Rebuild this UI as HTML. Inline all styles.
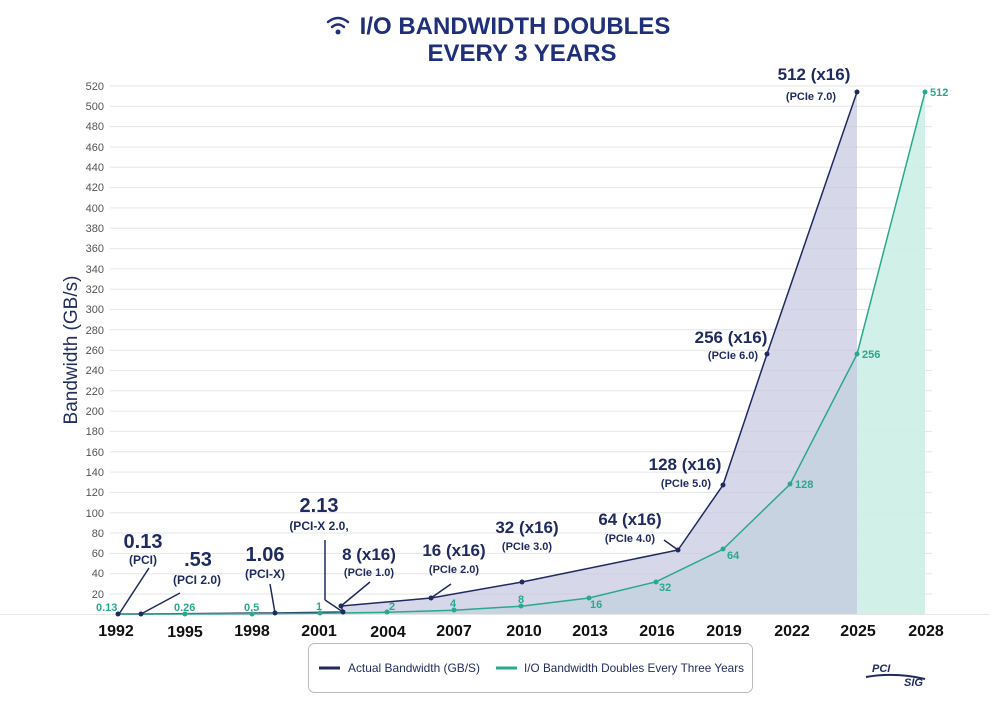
<!DOCTYPE html>
<html><head><meta charset="utf-8"><style>
body{margin:0;background:#fff;width:1000px;height:701px;overflow:hidden;font-family:"Liberation Sans",sans-serif}
</style></head><body>
<svg width="1000" height="701" viewBox="0 0 1000 701" xmlns="http://www.w3.org/2000/svg" font-family="Liberation Sans, sans-serif">
<text x="515" y="34" text-anchor="middle" font-size="24" font-weight="bold" fill="#1f2f7a">I/O BANDWIDTH DOUBLES</text>
<text x="522" y="61" text-anchor="middle" font-size="24" font-weight="bold" fill="#1f2f7a">EVERY 3 YEARS</text>
<g fill="none" stroke="#1f2f7a" stroke-width="2.5" stroke-linecap="round"><path d="M328 22 q10 -8 20 0"/><path d="M332 27 q6 -5 12 0"/></g><circle cx="338" cy="32" r="2.5" fill="#1f2f7a"/>
<g stroke="#e6e6e6" stroke-width="1">
<line x1="110" y1="86.0" x2="932" y2="86.0"/><line x1="110" y1="106.3" x2="932" y2="106.3"/><line x1="110" y1="126.6" x2="932" y2="126.6"/><line x1="110" y1="147.0" x2="932" y2="147.0"/><line x1="110" y1="167.3" x2="932" y2="167.3"/><line x1="110" y1="187.6" x2="932" y2="187.6"/><line x1="110" y1="207.9" x2="932" y2="207.9"/><line x1="110" y1="228.2" x2="932" y2="228.2"/><line x1="110" y1="248.6" x2="932" y2="248.6"/><line x1="110" y1="268.9" x2="932" y2="268.9"/><line x1="110" y1="289.2" x2="932" y2="289.2"/><line x1="110" y1="309.5" x2="932" y2="309.5"/><line x1="110" y1="329.8" x2="932" y2="329.8"/><line x1="110" y1="350.2" x2="932" y2="350.2"/><line x1="110" y1="370.5" x2="932" y2="370.5"/><line x1="110" y1="390.8" x2="932" y2="390.8"/><line x1="110" y1="411.1" x2="932" y2="411.1"/><line x1="110" y1="431.4" x2="932" y2="431.4"/><line x1="110" y1="451.8" x2="932" y2="451.8"/><line x1="110" y1="472.1" x2="932" y2="472.1"/><line x1="110" y1="492.4" x2="932" y2="492.4"/><line x1="110" y1="512.7" x2="932" y2="512.7"/><line x1="110" y1="533.0" x2="932" y2="533.0"/><line x1="110" y1="553.4" x2="932" y2="553.4"/><line x1="110" y1="573.7" x2="932" y2="573.7"/><line x1="110" y1="594.0" x2="932" y2="594.0"/>
</g>
<line x1="0" y1="614.5" x2="990" y2="614.5" stroke="#e6e6e6"/>
<g font-size="11" fill="#555" text-anchor="end">
<text x="104" y="90">520</text><text x="104" y="110">500</text><text x="104" y="130">480</text><text x="104" y="151">460</text><text x="104" y="171">440</text><text x="104" y="191">420</text><text x="104" y="212">400</text><text x="104" y="232">380</text><text x="104" y="252">360</text><text x="104" y="273">340</text><text x="104" y="293">320</text><text x="104" y="313">300</text><text x="104" y="334">280</text><text x="104" y="354">260</text><text x="104" y="374">240</text><text x="104" y="395">220</text><text x="104" y="415">200</text><text x="104" y="435">180</text><text x="104" y="456">160</text><text x="104" y="476">140</text><text x="104" y="496">120</text><text x="104" y="517">100</text><text x="104" y="537">80</text><text x="104" y="557">60</text><text x="104" y="577">40</text><text x="104" y="598">20</text>
</g>
<text transform="translate(77,350) rotate(-90)" text-anchor="middle" font-size="19" fill="#1f2f5a">Bandwidth (GB/s)</text>
<path d="M118 614 L320 613 L387 612.3 L454 610.2 L521 606.2 L589 598 L656 581.8 L723 549.3 L790 484.3 L857 354.2 L925 92 L925 614 Z" fill="#cbeee6" opacity="0.9"/>
<path d="M118 614 L141 614 L275 613 L343 612 L341 606 L431 598 L522 582 L678 550 L723 485 L767 354 L857 92 L857 614 Z" fill="#c5c6e0" opacity="0.7"/>
<polyline points="118,614 141,614 275,613 343,612 341,606 431,598 522,582 678,550 723,485 767,354 857,92" fill="none" stroke="#1f2a5e" stroke-width="1.5"/>
<polyline points="118,614 185,614 252,613.8 320,613.3 387,612.3 454,610.2 521,606.2 589,598 656,581.8 723,549.3 790,484.3 857,354.2 925,92" fill="none" stroke="#2aa88e" stroke-width="1.5"/>
<g fill="#1f2a5e"><circle cx="118" cy="614" r="2.5"/><circle cx="141" cy="614" r="2.5"/><circle cx="275" cy="613" r="2.5"/><circle cx="343" cy="612" r="2.5"/><circle cx="341" cy="606" r="2.5"/><circle cx="431" cy="598" r="2.5"/><circle cx="522" cy="582" r="2.5"/><circle cx="678" cy="550" r="2.5"/><circle cx="723" cy="485" r="2.5"/><circle cx="767" cy="354" r="2.5"/><circle cx="857" cy="92" r="2.5"/></g>
<g fill="#2aa88e"><circle cx="185" cy="614" r="2.5"/><circle cx="252" cy="614" r="2.5"/><circle cx="320" cy="613" r="2.5"/><circle cx="387" cy="612" r="2.5"/><circle cx="454" cy="610" r="2.5"/><circle cx="521" cy="606" r="2.5"/><circle cx="589" cy="598" r="2.5"/><circle cx="656" cy="582" r="2.5"/><circle cx="723" cy="549" r="2.5"/><circle cx="790" cy="484" r="2.5"/><circle cx="857" cy="354" r="2.5"/><circle cx="925" cy="92" r="2.5"/></g>
<g font-size="11" fill="#2aa88e" font-weight="bold"><text x="96" y="611">0.13</text><text x="174" y="611">0.26</text><text x="244" y="611">0.5</text><text x="316" y="610">1</text><text x="389" y="610">2</text><text x="450" y="607">4</text><text x="518" y="603">8</text><text x="590" y="608">16</text><text x="659" y="591">32</text><text x="727" y="559">64</text><text x="795" y="488">128</text><text x="862" y="358">256</text><text x="930" y="96">512</text></g>
<g stroke="#1f2a5e" stroke-width="1.5" fill="none"><line x1="119" y1="614" x2="149" y2="568"/><line x1="141" y1="614" x2="180" y2="593"/><line x1="275" y1="613" x2="270" y2="584"/><line x1="325" y1="540" x2="325" y2="600"/><line x1="325" y1="600" x2="343" y2="612"/><line x1="341" y1="606" x2="370" y2="582"/><line x1="431" y1="598" x2="451" y2="584"/><line x1="678" y1="550" x2="664" y2="540"/></g>
<g fill="#1f2a5e" text-anchor="middle" font-weight="bold">
<text x="143" y="548" font-size="20">0.13</text><text x="143" y="564" font-size="12">(PCI)</text>
<text x="198" y="566" font-size="20">.53</text><text x="197" y="584" font-size="12">(PCI 2.0)</text>
<text x="265" y="561" font-size="20">1.06</text><text x="265" y="578" font-size="12">(PCI-X)</text>
<text x="319" y="512" font-size="20">2.13</text><text x="319" y="530" font-size="12">(PCI-X 2.0,</text>
<text x="369" y="560" font-size="17">8 (x16)</text><text x="369" y="576" font-size="11">(PCIe 1.0)</text>
<text x="454" y="556" font-size="17">16 (x16)</text><text x="454" y="573" font-size="11">(PCIe 2.0)</text>
<text x="527" y="533" font-size="17">32 (x16)</text><text x="527" y="550" font-size="11">(PCIe 3.0)</text>
<text x="630" y="525" font-size="17">64 (x16)</text><text x="630" y="542" font-size="11">(PCIe 4.0)</text>
<text x="685" y="470" font-size="17">128 (x16)</text><text x="686" y="487" font-size="11">(PCIe 5.0)</text>
<text x="731" y="343" font-size="17">256 (x16)</text><text x="733" y="359" font-size="11">(PCIe 6.0)</text>
<text x="814" y="80" font-size="17">512 (x16)</text><text x="811" y="100" font-size="11">(PCIe 7.0)</text>
</g>
<g font-size="16" font-weight="bold" fill="#111" text-anchor="middle">
<text x="116" y="636">1992</text><text x="185" y="637">1995</text><text x="252" y="636">1998</text><text x="319" y="636">2001</text><text x="388" y="637">2004</text><text x="454" y="636">2007</text><text x="524" y="636">2010</text><text x="590" y="636">2013</text><text x="657" y="636">2016</text><text x="724" y="636">2019</text><text x="792" y="636">2022</text><text x="858" y="636">2025</text><text x="926" y="636">2028</text>
</g>
<rect x="308.5" y="643.5" width="444" height="49" rx="6" fill="#fff" stroke="#bbb"/>
<line x1="319" y1="668" x2="340" y2="668" stroke="#1f2a5e" stroke-width="3"/>
<text x="348" y="672" font-size="12" fill="#1f2a5e" textLength="132" lengthAdjust="spacingAndGlyphs">Actual Bandwidth (GB/S)</text>
<line x1="496" y1="668" x2="517" y2="668" stroke="#2aa88e" stroke-width="3"/>
<text x="524" y="672" font-size="12" fill="#1f2a5e" textLength="220" lengthAdjust="spacingAndGlyphs">I/O Bandwidth Doubles Every Three Years</text>
<text x="872" y="672" font-size="11" font-weight="bold" font-style="italic" fill="#1f2a5e">PCI</text>
<text x="904" y="686" font-size="11" font-weight="bold" font-style="italic" fill="#1f2a5e">SIG</text>
<path d="M866 677 Q895 672 925 679" stroke="#1f2a5e" stroke-width="2" fill="none"/>
</svg>
</body></html>
